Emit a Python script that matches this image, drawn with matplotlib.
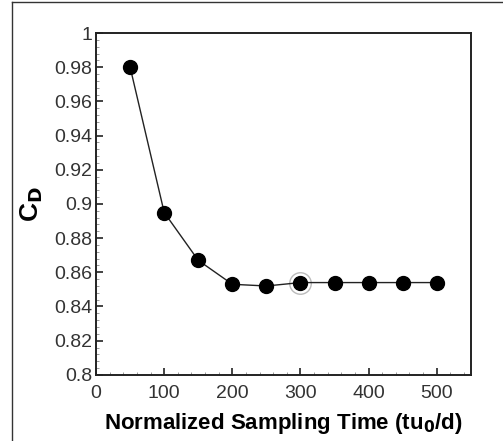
import matplotlib
matplotlib.use("Agg")
import matplotlib.pyplot as plt
from matplotlib.ticker import MultipleLocator
from matplotlib.lines import Line2D

plt.rcParams['font.family'] = ['Liberation Sans', 'DejaVu Sans']

sampling_time = [50, 100, 150, 200, 250, 300, 350, 400, 450, 500]
cd_values = [0.980, 0.895, 0.867, 0.853, 0.852, 0.854, 0.854, 0.854, 0.854, 0.854]
highlight_x = [300]
highlight_y = [0.854]
y_ticks = [0.8, 0.82, 0.84, 0.86, 0.88, 0.9, 0.92, 0.94, 0.96, 0.98, 1.0]
y_ticklabels = ['0.8', '0.82', '0.84', '0.86', '0.88', '0.9', '0.92', '0.94', '0.96', '0.98', '1']

fig = plt.figure(figsize=(5.03, 4.41), dpi=100)
ax = fig.add_axes([0.191, 0.150, 0.745, 0.775])

ax.plot(sampling_time, cd_values, color='#222222', lw=1.0, marker='o',
        markersize=10, markerfacecolor='black', markeredgecolor='black', zorder=3)
ax.plot(highlight_x, highlight_y, marker='o', markersize=15.5, markerfacecolor='none',
        markeredgecolor='#bbbbbb', markeredgewidth=1.0, ls='none', zorder=2)

ax.set_xlim(0, 550)
ax.set_ylim(0.8, 1.0)
ax.xaxis.set_major_locator(MultipleLocator(100))
ax.xaxis.set_minor_locator(MultipleLocator(20))
ax.yaxis.set_minor_locator(MultipleLocator(0.004))
ax.set_yticks(y_ticks)
ax.set_yticklabels(y_ticklabels)

ax.tick_params(which='both', direction='in', top=False, right=False, colors='#222222',
               labelsize=14, labelcolor='#333333')
ax.tick_params(axis='y', which='major', pad=3)
ax.tick_params(axis='x', which='major', pad=7)
ax.tick_params(which='major', length=5, width=1.2)
ax.tick_params(which='minor', length=2.5, width=0.6, color='#888888')
for s in ax.spines.values():
    s.set_linewidth(1.4)
    s.set_color('#222222')

ax.set_xlabel('Normalized Sampling Time (tu$_\\mathbf{0}$/d)', fontsize=16, fontweight='bold', labelpad=7)
ax.set_ylabel('C$_\\mathbf{D}$', fontsize=19, fontweight='bold', labelpad=6)

# outer frame of the picture
fig.add_artist(Line2D([12/503, 12/503], [0, 1 - 2/441], transform=fig.transFigure, color='#333333', lw=1.0))
fig.add_artist(Line2D([12/503, 1], [1 - 2/441, 1 - 2/441], transform=fig.transFigure, color='#333333', lw=1.0))

fig.savefig('out.png', dpi=100)
